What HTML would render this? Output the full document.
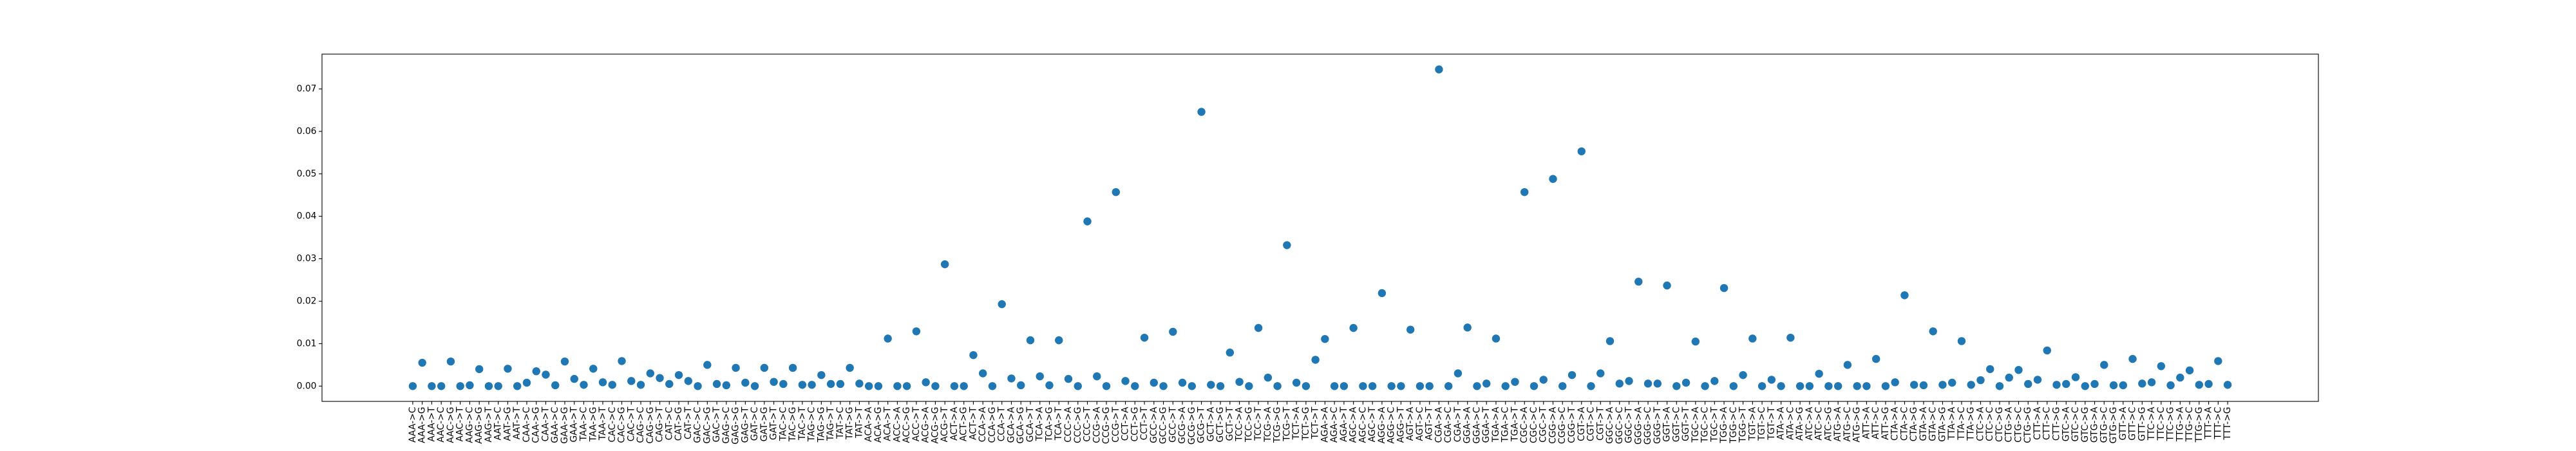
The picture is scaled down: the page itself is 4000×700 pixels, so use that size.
<!DOCTYPE html>
<html><head><meta charset="utf-8"><style>
html,body{margin:0;padding:0;background:#fff;}
svg{display:block;font-family:"DejaVu Sans","Liberation Sans",sans-serif;}
</style></head><body>
<svg id="chart" width="4000" height="700" xmlns="http://www.w3.org/2000/svg">
<rect x="0" y="0" width="4000" height="700" fill="#fff"/>
<g id="plot"></g>
</svg>
<script>
const ctxA = ["AAA","AAC","AAG","AAT","CAA","GAA","TAA","CAC","CAG","CAT","GAC","GAG","GAT","TAC","TAG","TAT"];
const ctxC = ["ACA","ACC","ACG","ACT","CCA","GCA","TCA","CCC","CCG","CCT","GCC","GCG","GCT","TCC","TCG","TCT"];
const ctxG = ["AGA","AGC","AGG","AGT","CGA","GGA","TGA","CGC","CGG","CGT","GGC","GGG","GGT","TGC","TGG","TGT"];
const ctxT = ["ATA","ATC","ATG","ATT","CTA","GTA","TTA","CTC","CTG","CTT","GTC","GTG","GTT","TTC","TTG","TTT"];
const altsA = ["C","G","T"], altsC = ["A","G","T"], altsG = ["A","C","T"], altsT = ["A","C","G"];
const valuesA = [0,.0055,0, 0,.0058,0, .0002,.004,0, 0,.0041,0, .0008,.0035,.0027, .0002,.0058,.0017, .0003,.0041,.0009, .0003,.0059,.0012, .0003,.003,.0019, .0005,.0026,.0012, 0,.005,.0005, .0002,.0043,.0008, 0,.0043,.001, .0005,.0043,.0003, .0003,.0026,.0005, .0005,.0043,.0006];
const valuesC = [0,0,.0112, 0,0,.0129, .0009,0,.0287, 0,0,.0073, .003,0,.0193, .0018,.0002,.0108, .0023,.0002,.0108, .0017,0,.0388, .0023,0,.0457, .0012,0,.0114, .0008,0,.0128, .0008,0,.0646, .0003,0,.0079, .001,0,.0137, .002,0,.0332, .0008,0,.0062];
const valuesG = [.0111,0,0, .0137,0,0, .0219,0,0, .0133,0,0, .0746,0,.003, .0138,0,.0006, .0112,0,.001, .0457,0,.0015, .0488,0,.0026, .0553,0,.003, .0106,.0006,.0012, .0246,.0006,.0006, .0237,0,.0008, .0105,0,.0012, .0231,0,.0026, .0112,0,.0015];
const valuesT = [0,.0114,0, 0,.0029,0, 0,.005,0, 0,.0064,0, .0009,.0214,.0003, .0002,.0129,.0003, .0008,.0106,.0003, .0014,.004,0, .002,.0038,.0005, .0015,.0084,.0003, .0005,.0021,0, .0005,.005,.0002, .0002,.0064,.0006, .0009,.0047,.0002, .002,.0037,.0003, .0005,.0059,.0003];
const yTicks = [0,0.01,0.02,0.03,0.04,0.05,0.06,0.07];
const yTickLabels = ["0.00","0.01","0.02","0.03","0.04","0.05","0.06","0.07"];

const NS = "http://www.w3.org/2000/svg";
const plot = document.getElementById("plot");
const categories = [];
[[ctxA,altsA],[ctxC,altsC],[ctxG,altsG],[ctxT,altsT]].forEach(function(p){
  p[0].forEach(function(c){ p[1].forEach(function(a){ categories.push(c + "->" + a); }); });
});
const values = valuesA.concat(valuesC, valuesG, valuesT);

const L = 500, R = 3600, T = 84, B = 623;
const n = categories.length;
const pad = (n - 1) * 0.05;
const xMin = -pad, xMax = (n - 1) + pad;
const yMin = -0.0036, yMax = 0.0782;
function xScale(i){ return L + (i - xMin) / (xMax - xMin) * (R - L); }
function yScale(v){ return B - (v - yMin) / (yMax - yMin) * (B - T); }
function mk(tag, attrs){ const e = document.createElementNS(NS, tag); for (const k in attrs) e.setAttribute(k, attrs[k]); return e; }

// y ticks
yTicks.forEach(function(v, i){
  const y = yScale(v);
  const t = mk("line", {x1: L - 4.9, x2: L, y1: y, y2: y, stroke: "#000", "stroke-width": 1.1});
  
  
  plot.appendChild(t);
  const lb = mk("text", {x: L - 8.5, y: y, "text-anchor": "end", "dominant-baseline": "central", "font-size": "13.9", fill: "#000"});
  lb.textContent = yTickLabels[i];
  
  
  plot.appendChild(lb);
});

// x ticks & labels
categories.forEach(function(c, i){
  const x = xScale(i);
  const t = mk("line", {x1: x, x2: x, y1: B, y2: B + 4.9, stroke: "#000", "stroke-width": 1.1});
  
  
  plot.appendChild(t);
  const lb = mk("text", {x: x, y: B + 8.5, "text-anchor": "end", "dominant-baseline": "central", "font-size": "13.9", fill: "#000", transform: "rotate(-90 " + x + " " + (B + 8.5) + ")"});
  lb.textContent = c;
  
  
  plot.appendChild(lb);
});

// points
values.forEach(function(v, i){
  const pt = mk("circle", {cx: xScale(i), cy: yScale(v), r: 6.2, fill: "#1f77b4"});
  
  
  plot.appendChild(pt);
});

// frame
const frame = mk("rect", {x: L, y: T, width: R - L, height: B - T, fill: "none", stroke: "#000", "stroke-width": 1.1});


plot.appendChild(frame);
</script>
</body></html>
